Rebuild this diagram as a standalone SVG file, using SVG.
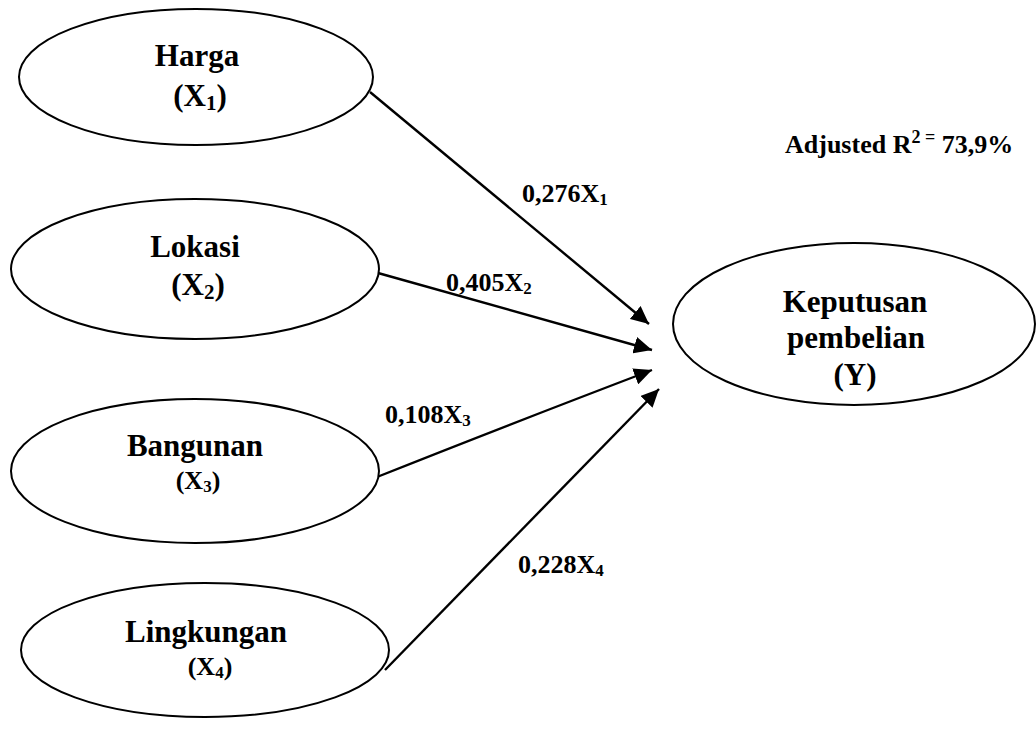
<svg xmlns="http://www.w3.org/2000/svg" width="1036" height="729" viewBox="0 0 1036 729">
<style>
.node{fill:#fff;stroke:#000;stroke-width:2}
.t{font-family:"Liberation Serif","Times New Roman",serif;font-weight:bold;fill:#000;text-anchor:middle}
.big{font-size:31px}
.mid{font-size:26px}
.lbl{font-family:"Liberation Serif","Times New Roman",serif;font-weight:bold;fill:#000;font-size:26px}
.edge{stroke:#000;stroke-width:2.4;fill:none;marker-end:url(#ah)}
</style>
<defs>
<marker id="ah" markerUnits="userSpaceOnUse" markerWidth="19" markerHeight="17" refX="18" refY="8.5" orient="auto">
<path d="M0,0 L18,8.5 L0,17 Z" fill="#000"/>
</marker>
</defs>
<rect width="1036" height="729" fill="#fff"/>
<g id="connectors">
<line class="edge" x1="370" y1="92" x2="649" y2="324"/>
<line class="edge" x1="378" y1="273" x2="652" y2="350"/>
<path class="edge" d="M377,477 Q500,428 652,370"/>
<line class="edge" x1="385" y1="670" x2="659" y2="389"/>
</g>
<g id="harga">
<ellipse class="node" cx="196" cy="77" rx="177" ry="68"/>
<text class="t big" x="197" y="66">Harga</text>
<text class="t big" x="200" y="106">(X<tspan font-size="21" dy="4">1</tspan><tspan dy="-4">)</tspan></text>
</g>
<g id="lokasi">
<ellipse class="node" cx="195" cy="269" rx="184" ry="70"/>
<text class="t big" x="195" y="257">Lokasi</text>
<text class="t big" x="198" y="295">(X<tspan font-size="21" dy="4">2</tspan><tspan dy="-4">)</tspan></text>
</g>
<g id="bangunan">
<ellipse class="node" cx="195" cy="471" rx="184" ry="72"/>
<text class="t big" x="195" y="456">Bangunan</text>
<text class="t mid" x="198" y="489">(X<tspan font-size="17" dy="3">3</tspan><tspan dy="-3">)</tspan></text>
</g>
<g id="lingkungan">
<ellipse class="node" cx="205" cy="650" rx="184" ry="67"/>
<text class="t big" x="206" y="642">Lingkungan</text>
<text class="t mid" x="210" y="675">(X<tspan font-size="17" dy="3">4</tspan><tspan dy="-3">)</tspan></text>
</g>
<g id="keputusan">
<ellipse class="node" cx="854" cy="324" rx="181" ry="81"/>
<text class="t big" x="855" y="312">Keputusan</text>
<text class="t big" x="856" y="348">pembelian</text>
<text class="t big" x="855" y="385">(Y)</text>
</g>
<g id="labels">
<text class="lbl" x="522" y="202">0,276X<tspan font-size="17" dy="3">1</tspan></text>
<text class="lbl" x="446" y="291">0,405X<tspan font-size="17" dy="3">2</tspan></text>
<text class="lbl" x="385" y="423">0,108X<tspan font-size="17" dy="3">3</tspan></text>
<text class="lbl" x="518" y="573">0,228X<tspan font-size="17" dy="3">4</tspan></text>
<text class="lbl" x="785" y="153" font-size="27">Adjusted R<tspan font-size="18" dy="-10">2 =</tspan><tspan dy="10"> 73,9%</tspan></text>
</g>
</svg>
